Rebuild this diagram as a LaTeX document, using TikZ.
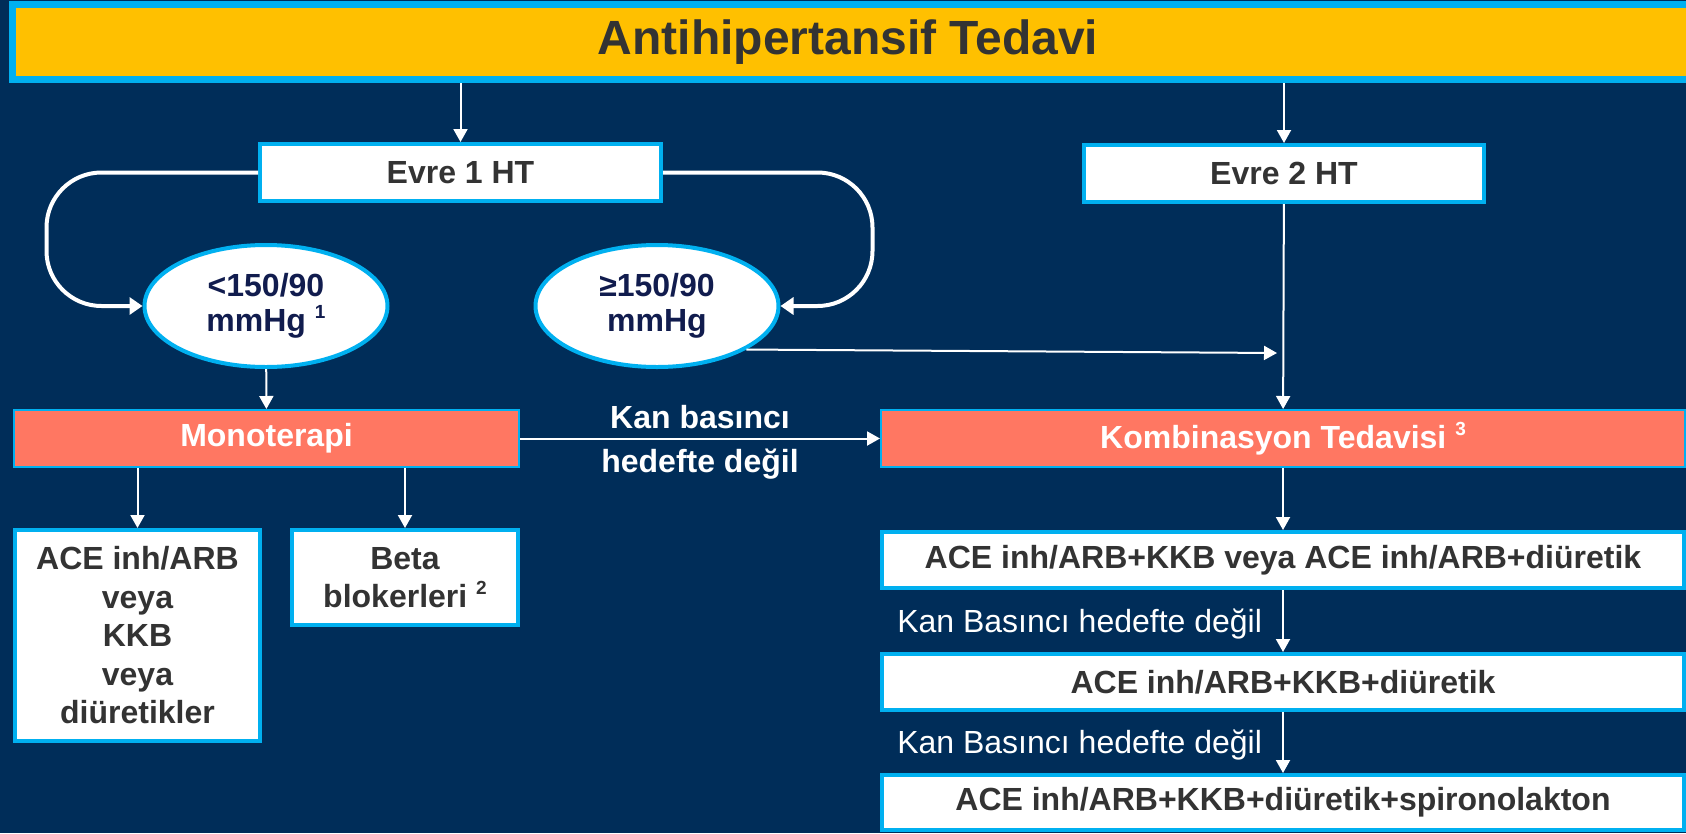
\documentclass[tikz,border=0pt]{standalone}
\usepackage{fontspec}
\setmainfont{Liberation Sans}
\usetikzlibrary{arrows.meta, positioning, shapes.geometric}
\definecolor{navybg}{HTML}{002D59}
\definecolor{titleyellow}{HTML}{FFC000}
\definecolor{edgeblue}{HTML}{00B0F0}
\definecolor{salmonred}{HTML}{FF7762}
\definecolor{textgray}{HTML}{333333}
\definecolor{ovalnavy}{HTML}{111C4E}
\newcommand{\bodysize}{\fontsize{32}{38.5}\selectfont}
\newcommand{\fnmark}[1]{\raisebox{0.8ex}{\fontsize{19}{19}\selectfont #1}}

\begin{document}
\begin{tikzpicture}[x=1pt, y=-1pt,
  headbox/.style={rectangle, draw=edgeblue, fill=titleyellow, line width=7pt, minimum width=1677pt, minimum height=75pt, inner sep=0pt, text=textgray, font=\fontsize{48}{56}\selectfont\bfseries},
  stagebox/.style={rectangle, draw=edgeblue, fill=white, line width=4pt, minimum width=401pt, minimum height=57pt, inner sep=0pt, text=textgray, font=\bodysize\bfseries},
  rangeoval/.style={ellipse, draw=edgeblue, fill=white, line width=4pt, minimum width=243pt, minimum height=122pt, inner sep=0pt, align=center, text=ovalnavy, font=\fontsize{32}{35}\selectfont\bfseries},
  therapybox/.style={rectangle, draw=edgeblue, fill=salmonred, line width=2pt, minimum height=57pt, inner sep=0pt, text=white, font=\bodysize\bfseries},
  drugbox/.style={rectangle, draw=edgeblue, fill=white, line width=4pt, inner sep=0pt, align=center, text=textgray, font=\bodysize\bfseries},
  stepnote/.style={text=white, inner sep=0pt, font=\fontsize{32}{38}\selectfont},
  arrow/.style={-{Triangle[length=13pt, width=14pt]}, line width=2pt, draw=white},
  loopline/.style={-{Triangle[length=13pt, width=17pt]}, line width=4pt, draw=white, rounded corners=55pt}
]
  \useasboundingbox (0,0) rectangle (1686,833);
  \fill[navybg] (0,0) rectangle (1686,833);

  % Title
  \node[headbox] (title) at (851,42) {\hspace*{-6pt}Antihipertansif Tedavi};

  % Stages
  \node[stagebox] (evre1) at (460.5,172.5) {Evre 1 HT};
  \node[stagebox, minimum width=400pt] (evre2) at (1284,173.5) {Evre 2 HT};

  % Blood pressure ranges
  \node[rangeoval] (lowbp)  at (266,306) {<150/90\\mmHg \fnmark{1}};
  \node[rangeoval] (highbp) at (657,306) {≥150/90\\mmHg};

  % Therapies
  \node[therapybox, minimum width=505pt] (mono)  at (266.5,438.5) {Monoterapi};
  \node[therapybox, minimum width=804pt] (kombi) at (1283,438.5) {Kombinasyon Tedavisi \fnmark{3}};

  % Monotherapy options
  \node[drugbox, minimum width=245pt, minimum height=211pt] (monoA) at (137.5,635.5) {ACE inh/ARB\\veya\\KKB\\veya\\diüretikler};
  \node[drugbox, minimum width=226pt, minimum height=95pt]  (monoB) at (405,577.5) {Beta\\blokerleri \fnmark{2}};

  % Combination steps
  \node[drugbox, minimum width=802pt, minimum height=56pt] (stepA) at (1283,560) {ACE inh/ARB+KKB veya ACE inh/ARB+diüretik};
  \node[drugbox, minimum width=802pt, minimum height=56pt] (stepB) at (1283,682) {ACE inh/ARB+KKB+diüretik};
  \node[drugbox, minimum width=802pt, minimum height=55pt] (stepC) at (1283,802.5) {ACE inh/ARB+KKB+diüretik+spironolakton};

  \coordinate (join) at (1277,353);

  % Arrows
  \draw[arrow] (title.south -| evre1.north) -- (evre1.north);
  \draw[arrow] (title.south -| evre2.north) -- (evre2.north);
  \draw[loopline] (evre1.west) -| ([xshift=-96pt]lowbp.west) -- (lowbp.west);
  \draw[loopline] (evre1.east) -| ([xshift=92pt]highbp.east) -- (highbp.east);
  \draw[arrow] (highbp.-26) -- (join);
  \draw[arrow] (evre2) -- (kombi);
  \draw[arrow] (lowbp) -- (mono);
  \draw[arrow] (mono) -- node[midway, yshift=-4pt, align=center, text=white, font=\fontsize{32}{44}\selectfont\bfseries] {Kan basıncı\\hedefte değil} (kombi);
  \draw[arrow] (mono.south -| monoA.north) -- (monoA.north);
  \draw[arrow] (mono.south -| monoB.north) -- (monoB.north);
  \draw[arrow] (kombi) -- (stepA);
  \draw[arrow] (stepA) -- node[stepnote, left=20pt, yshift=-3pt] {Kan Basıncı hedefte değil} (stepB);
  \draw[arrow] (stepB) -- node[stepnote, left=20pt, yshift=-3pt] {Kan Basıncı hedefte değil} (stepC);
\end{tikzpicture}
\end{document}
